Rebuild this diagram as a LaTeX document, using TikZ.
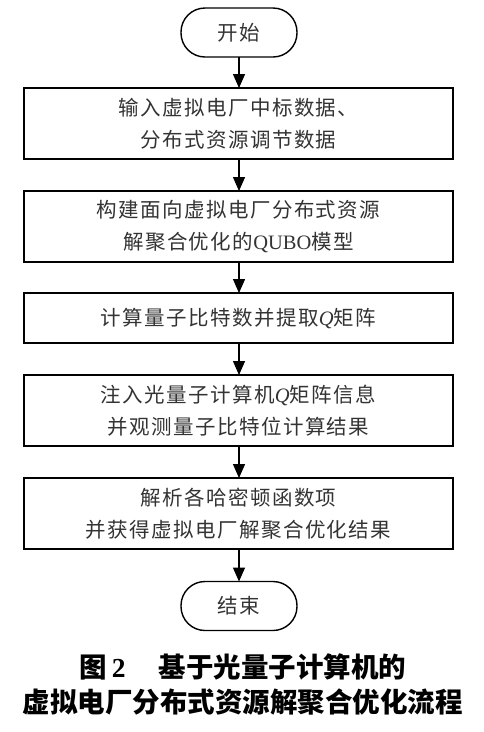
\documentclass[tikz,border=0pt]{standalone}
\usepackage{fontspec}
\setmainfont{Liberation Serif}
\newfontfamily\cjk{Noto Sans CJK SC}[LetterSpace=7]
\newfontfamily\cjkcap{Noto Sans CJK SC}
\usetikzlibrary{arrows.meta}
\newcommand\lat[1]{{\rmfamily #1}}
\begin{document}
\begin{tikzpicture}[x=1pt,y=-1pt,
  every node/.style={inner sep=0pt, outer sep=0pt},
  proc/.style={draw, line width=1.4pt, minimum width=429pt, align=center,
    font=\cjk\fontsize{20.5}{32}\selectfont, text=black!80},
  term/.style={draw, line width=1.4pt, minimum width=116pt, minimum height=49pt,
    rounded corners=24pt, font=\cjk\fontsize{20.5}{32}\selectfont, text=black!80},
  flow/.style={line width=1.4pt, -{Triangle[width=12pt,length=14pt]}},
  captext/.style={font=\cjkcap\bfseries\fontsize{27.5}{34}\selectfont}]
\useasboundingbox (0,0) rectangle (483,732);
\node[term] (start) at (239,32.5) {开始};
\node[proc, minimum height=71pt] (b1) at (238.5,123.5) {输入虚拟电厂中标数据、\\分布式资源调节数据};
\node[proc, minimum height=71pt] (b2) at (238.5,226.5) {构建面向虚拟电厂分布式资源\\解聚合优化的\lat{QUBO}模型};
\node[proc, minimum height=50pt] (b3) at (238.5,318) {计算量子比特数并提取\lat{\itshape Q}矩阵};
\node[proc, minimum height=71pt] (b4) at (238.5,410.5) {注入光量子计算机\lat{\itshape Q}矩阵信息\\并观测量子比特位计算结果};
\node[proc, minimum height=71pt] (b5) at (238.5,513.5) {解析各哈密顿函数项\\并获得虚拟电厂解聚合优化结果};
\node[term] (end) at (239,606) {结束};
\draw[flow] (start.south) -- (b1.north -| start.south);
\draw[flow] (b1.south -| start.south) -- (b2.north -| start.south);
\draw[flow] (b2.south -| start.south) -- (b3.north -| start.south);
\draw[flow] (b3.south -| start.south) -- (b4.north -| start.south);
\draw[flow] (b4.south -| start.south) -- (b5.north -| start.south);
\draw[flow] (b5.south -| start.south) -- (end.north);
\node[captext] (cap1) at (243,667) {图\,\lat{\bfseries 2}\hspace{1.2em}基于光量子计算机的};
\node[captext] (cap2) at (243,702) {虚拟电厂分布式资源解聚合优化流程};
\end{tikzpicture}
\end{document}
